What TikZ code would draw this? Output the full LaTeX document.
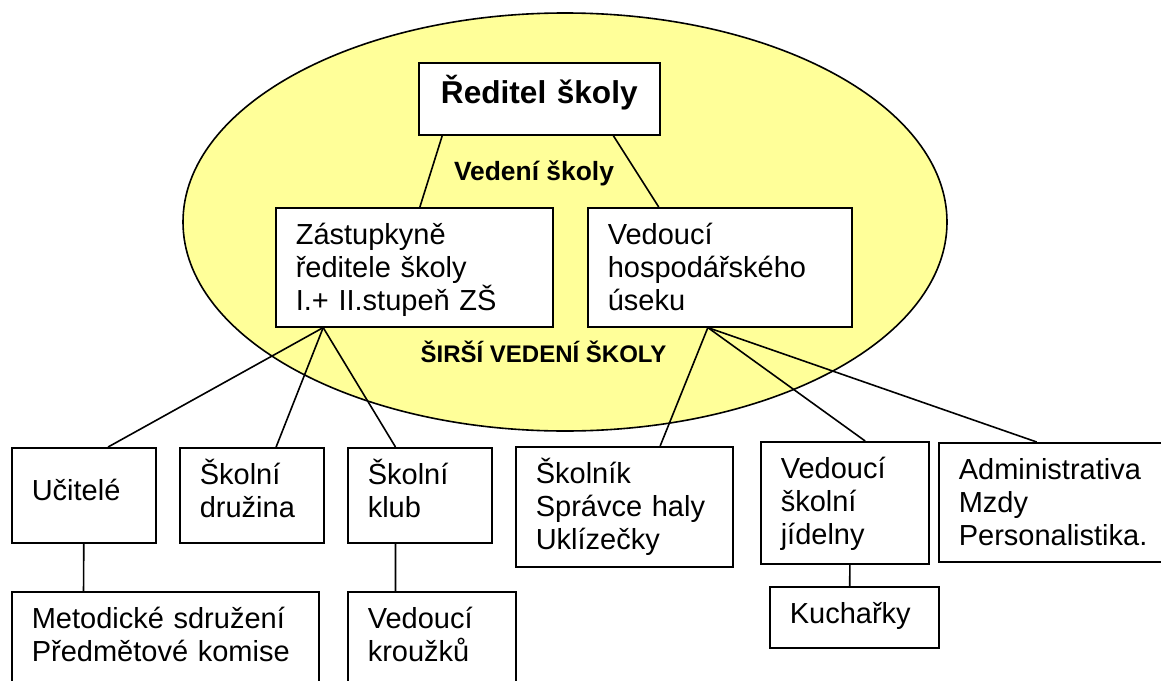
\documentclass[tikz,border=0pt]{standalone}
\usepackage{fontspec}
\setmainfont{Liberation Sans}
\usetikzlibrary{calc}
\definecolor{vedeni}{RGB}{255,255,153}

\begin{document}
\begin{tikzpicture}[x=0.5pt,y=-0.5pt,line width=0.8pt,
 font=\fontsize{14.5}{16.5}\selectfont,
 box/.style 2 args={rectangle,draw,fill=white,anchor=north west,align=left,
  inner xsep=10pt,inner ysep=0pt,text height=18.5pt,text width=#1,text depth=#2},
 lbl/.style={anchor=base,font=\fontsize{#1}{#1}\selectfont\bfseries}]

 \useasboundingbox (0,0) rectangle (1161,680);
 \draw[fill=vedeni] (565,222) ellipse [x radius=191pt,y radius=104.5pt];

 \node at (418,62) [box={100.5pt}{15.5pt},align=center,text height=20.5pt,font=\fontsize{15.8}{19}\selectfont\bfseries] (reditel) {Ředitel školy};
 \node at (275,207) [box={118.5pt}{41pt}] (zast) {Zástupkyně\\ředitele školy\\I.+ II.stupeň ZŠ};
 \node at (587,207) [box={112pt}{41pt}] (hosp) {Vedoucí\\hospodářského\\úseku};

 \node at (534,180) [lbl=13.2] (vedeni) {Vedení školy};
 \node at (543.5,362) [lbl=12] (sirsi) {ŠIRŠÍ VEDENÍ ŠKOLY};

 \node at (11,447) [box={52pt}{21pt},text height=26.5pt] (ucitele) {Učitelé};
 \node at (179,447) [box={52pt}{29pt}] (druzina) {Školní\\družina};
 \node at (347,447) [box={52pt}{29pt}] (klub) {Školní\\klub};
 \node at (515,446) [box={88.5pt}{41.5pt}] (skolnik) {Školník\\Správce haly\\Uklízečky};
 \node at (760,441) [box={64pt}{42.5pt}] (jidelna) {Vedoucí\\školní\\jídelny};
 \node at (938,442) [box={95pt}{41pt}] (admin) {Administrativa\\Mzdy\\Personalistika.};
 \node at (11,591) [box={133.5pt}{31.5pt}] (metodicke) {Metodické sdružení\\Předmětové komise};
 \node at (347,591) [box={64pt}{31.5pt}] (krouzky) {Vedoucí\\kroužků};
 \node at (769,586) [box={64.5pt}{12pt}] (kucharky) {Kuchařky};

 \draw ($(reditel.south west)!.10!(reditel.south east)$)--($(zast.north west)!.52!(zast.north east)$);
 \draw ($(reditel.south west)!.805!(reditel.south east)$)--($(hosp.north west)!.27!(hosp.north east)$);

 \draw ($(zast.south west)!.173!(zast.south east)$)--($(ucitele.north west)!.667!(ucitele.north east)$);
 \draw ($(zast.south west)!.173!(zast.south east)$)--($(druzina.north west)!.667!(druzina.north east)$);
 \draw ($(zast.south west)!.173!(zast.south east)$)--($(klub.north west)!.333!(klub.north east)$);

 \draw ($(hosp.south west)!.455!(hosp.south east)$)--($(skolnik.north west)!.664!(skolnik.north east)$);
 \draw ($(hosp.south west)!.455!(hosp.south east)$)--($(jidelna.north west)!.62!(jidelna.north east)$);
 \draw ($(hosp.south west)!.455!(hosp.south east)$)--($(admin.north west)!.426!(admin.north east)$);

 \draw (ucitele.south)--($(metodicke.north west)!.235!(metodicke.north east)$);
 \draw ($(klub.south west)!.333!(klub.south east)$)--($(krouzky.north west)!.286!(krouzky.north east)$);
 \draw ($(jidelna.south west)!.53!(jidelna.south east)$)--($(kucharky.north west)!.473!(kucharky.north east)$);
\end{tikzpicture}
\end{document}
